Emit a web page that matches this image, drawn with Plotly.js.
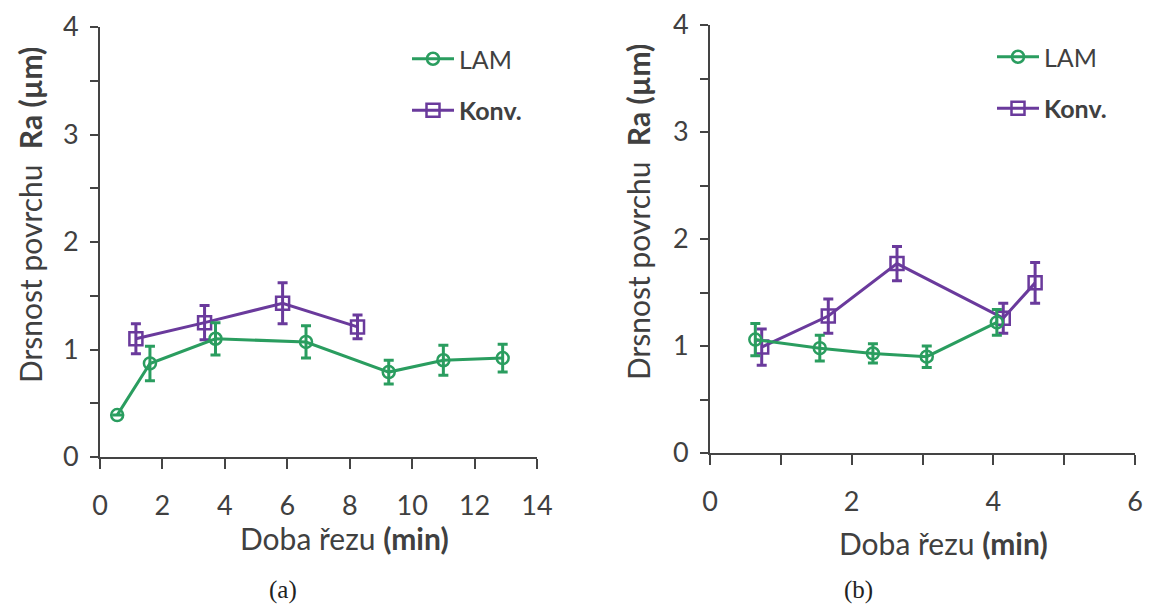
<!DOCTYPE html>
<html>
<head>
<meta charset="utf-8">
<script src="https://cdn.plot.ly/plotly-3.0.1.min.js"></script>
<style>html,body{margin:0;padding:0;background:#fff}#chart{width:1162px;height:608px}</style>
</head>
<body>
<div id="chart"></div>
<script>
// ---- data ----
// panel (a)
const lamA_x = [0.55, 1.6, 3.7, 6.6, 9.25, 11.0, 12.9];
const lamA_y = [0.39, 0.87, 1.10, 1.07, 0.79, 0.90, 0.92];
const lamA_err = [0, 0.16, 0.15, 0.15, 0.11, 0.14, 0.13];
const konA_x = [1.15, 3.35, 5.85, 8.25];
const konA_y = [1.10, 1.25, 1.43, 1.21];
const konA_err = [0.14, 0.16, 0.19, 0.11];
// panel (b)
const lamB_x = [0.64, 1.55, 2.3, 3.06, 4.05];
const lamB_y = [1.06, 0.98, 0.93, 0.90, 1.22];
const lamB_err = [0.15, 0.12, 0.09, 0.10, 0.12];
const konB_x = [0.73, 1.67, 2.64, 4.14, 4.59];
const konB_y = [0.99, 1.28, 1.77, 1.26, 1.59];
const konB_err = [0.17, 0.16, 0.16, 0.14, 0.19];

const seriesNames = ["LAM", "<b>Konv.</b>"];
const xTitle = "Doba řezu <b>(min)</b>";
const yTitle = "Drsnost povrchu  <b>Ra (µm)</b>";
const panelLabels = ["(a)", "(b)"];

const GREEN = "#2a9d5f";
const PURPLE = "#6a3a9c";
const TXT = "#404040";
const FONT = "Lato, 'Open Sans', sans-serif";
const W = 1162, H = 608;
const px = v => v / W;
const py = v => 1 - v / H;

function tr(x, y, e, name, color, sym, xa, ya, leg, rank) {
  return {
    x: x, y: y, type: "scatter", mode: "lines+markers", name: name,
    xaxis: xa, yaxis: ya, legend: leg, legendgroup: name + leg, legendrank: rank, showlegend: true,
    line: {color: color, width: 3},
    marker: {symbol: sym, size: sym === "square-open" ? 13 : 12, color: color, line: {color: color, width: 2.5}},
    error_y: {type: "data", array: e, visible: true, color: color, thickness: 3, width: 5}
  };
}

const data = [
  tr(konA_x, konA_y, konA_err, seriesNames[1], PURPLE, "square-open", "x", "y", "legend", 2),
  tr(lamA_x, lamA_y, lamA_err, seriesNames[0], GREEN, "circle-open", "x", "y", "legend", 1),
  tr(konB_x, konB_y, konB_err, seriesNames[1], PURPLE, "square-open", "x2", "y2", "legend2", 2),
  tr(lamB_x, lamB_y, lamB_err, seriesNames[0], GREEN, "circle-open", "x2", "y2", "legend2", 1)
];

function xax(domain, range, dtick, minor, anchor) {
  const a = {
    domain: domain, range: range, anchor: anchor, dtick: dtick, tick0: 0,
    showgrid: false, zeroline: false, showline: true, linecolor: "#444", linewidth: 2,
    ticks: "outside", ticklen: 10, tickwidth: 2, tickcolor: "#444",
    ticklabelstandoff: 14,
    tickfont: {family: FONT, size: 27, color: TXT}, fixedrange: true
  };
  if (minor) a.minor = {dtick: minor, tick0: 0, ticks: "outside", ticklen: 10, tickwidth: 2, tickcolor: "#444", showgrid: false};
  return a;
}
function yax(domain, anchor) {
  return {
    domain: domain, range: [0, 4], anchor: anchor, dtick: 1, tick0: 0,
    showgrid: false, zeroline: false, showline: true, linecolor: "#444", linewidth: 2,
    ticks: "outside", ticklen: 8, tickwidth: 2, tickcolor: "#444",
    ticklabelstandoff: 6,
    minor: {dtick: 0.5, tick0: 0, ticks: "outside", ticklen: 8, tickwidth: 2, tickcolor: "#444", showgrid: false},
    tickfont: {family: FONT, size: 27, color: TXT}, fixedrange: true
  };
}

const legendBase = {
  orientation: "v", xanchor: "left", yanchor: "top", bgcolor: "rgba(0,0,0,0)",
  font: {family: FONT, size: 25, color: TXT}, tracegroupgap: 16, traceorder: "grouped",
  itemwidth: 42
};

function note(text, x, y, size, family, color, angle) {
  return {text: text, x: px(x), y: py(y), xref: "paper", yref: "paper", showarrow: false,
    xanchor: "center", yanchor: "middle", textangle: angle || 0,
    font: {family: family, size: size, color: color}};
}

const ann = [
  note(xTitle, 344, 538, 30, FONT, TXT),
  note(xTitle, 943, 543, 30, FONT, TXT),
  note(yTitle, 30, 215, 30, FONT, TXT, -90),
  note(yTitle, 638, 212, 30, FONT, TXT, -90),
  note(panelLabels[0], 283, 590, 25, "'Liberation Serif', serif", "#222"),
  note(panelLabels[1], 858, 590, 25, "'Liberation Serif', serif", "#222")
];

const layout = {
  width: W, height: H, margin: {l: 0, r: 0, t: 0, b: 0},
  paper_bgcolor: "#fff", plot_bgcolor: "#fff",
  xaxis: xax([px(100), px(537)], [0, 14], 2, null, "y"),
  yaxis: yax([1 - 457 / H, 1 - 27 / H], "x"),
  xaxis2: xax([px(710), px(1135)], [0, 6], 2, 1, "y2"),
  yaxis2: yax([1 - 453 / H, 1 - 25 / H], "x2"),
  legend: Object.assign({}, legendBase, {x: px(407), y: py(36)}),
  legend2: Object.assign({}, legendBase, {x: px(992), y: py(34)}),
  annotations: ann,
  showlegend: true
};

Plotly.newPlot("chart", data, layout, {staticPlot: true, displayModeBar: false});
</script>
</body>
</html>
